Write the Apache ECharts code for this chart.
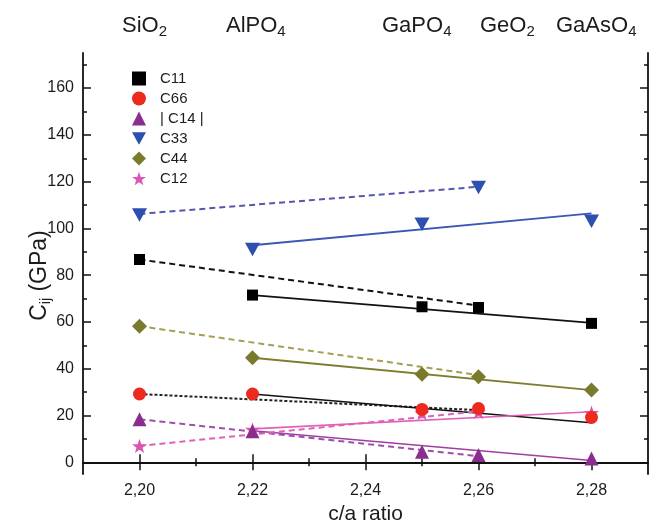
<!DOCTYPE html>
<html>
<head>
<meta charset="utf-8">
<script src="https://cdn.jsdelivr.net/npm/echarts@6/dist/echarts.min.js"></script>
<style>
  html, body { margin: 0; padding: 0; background: #fff; }
  #chart { width: 650px; height: 532px; }
</style>
</head>
<body>
<div id="chart"></div>
<script>
// c/a ratio of each crystal
const ratios = [2.20, 2.22, 2.25, 2.26, 2.28]
const materials = ['SiO2', 'AlPO4', 'GaPO4', 'GeO2', 'GaAsO4']

// elastic constants (GPa)
const c11 = [86.7, 71.5, 66.5, 66.2, 59.4]
const c66 = [29.2, 29.2, 22.6, 23.0, 19.2]
const c14 = [18.4, 13.3, 4.5, 3.1, 1.6]
const c33 = [105.7, 91.0, 101.8, 117.5, 103.1]
const c44 = [58.2, 44.7, 37.7, 36.6, 30.9]
const c12 = [7.0, 14.0, 21.0, 21.5, 21.2]

// fit lines, end points
const fitDashX = [2.20, 2.26]
const fitSolidX = [2.22, 2.28]
const c11Dash = [86.7, 67.0]
const c11Solid = [71.5, 59.6]
const c66Dash = [29.2, 22.3]
const c66Solid = [29.2, 16.9]
const c14Dash = [18.4, 2.6]
const c14Solid = [13.5, 0.8]
const c33Dash = [106.2, 117.8]
const c33Solid = [92.8, 106.4]
const c44Dash = [58.2, 37.3]
const c44Solid = [44.7, 30.9]
const c12Dash = [7.0, 21.8]
const c12Solid = [14.3, 21.6]

// axis ticks
const xMajor = [2.20, 2.22, 2.24, 2.26, 2.28]
const xMinor = [2.21, 2.23, 2.25, 2.27]
const yMajor = [0, 20, 40, 60, 80, 100, 120, 140, 160]
const yMinor = [10, 30, 50, 70, 90, 110, 130, 150, 170]

const FONT = 'Liberation Sans, Arial, sans-serif'
const TXT = '#1c1c1c'

const downTri = 'path://M0,0L10,0L5,9Z'
const star = 'path://M5,0L6.18,3.45L9.76,3.45L6.9,5.6L7.94,9.05L5,7L2.06,9.05L3.1,5.6L0.24,3.45L3.82,3.45Z'

const chart = echarts.init(document.getElementById('chart'))

const pairs = (xs, ys) => xs.map((x, i) => [x, ys[i]])

function fit (xs, ys, color, type, width) {
  return {
    type: 'line',
    data: pairs(xs, ys),
    symbol: 'none',
    silent: true,
    z: 2,
    lineStyle: { color: color, width: width || 1.6, type: type }
  }
}

function marks (name, ys, symbol, size, color) {
  return {
    name: name,
    type: 'scatter',
    data: pairs(ratios, ys),
    symbol: symbol,
    symbolSize: size,
    symbolKeepAspect: true,
    itemStyle: { color: color, opacity: 1 },
    z: 5
  }
}

const boxLine = { show: true, lineStyle: { color: '#111', width: 1.8 } }

function xAx (pos, values, len, line, labels) {
  return {
    type: 'value',
    position: pos,
    min: 2.19,
    max: 2.29,
    axisLine: line ? boxLine : { show: false },
    axisTick: { show: true, inside: true, length: len, customValues: values, lineStyle: { color: '#111', width: 1.5 } },
    axisLabel: labels ? {
      show: true,
      customValues: values,
      formatter: v => v.toFixed(2).replace('.', ','),
      fontFamily: FONT,
      fontSize: 16,
      color: TXT,
      margin: 9
    } : { show: false },
    splitLine: { show: false }
  }
}

function yAx (pos, values, len, line, labels) {
  return {
    type: 'value',
    position: pos,
    min: -5,
    max: 175,
    axisLine: line ? boxLine : { show: false },
    axisTick: { show: true, inside: true, length: len, customValues: values, lineStyle: { color: '#111', width: 1.5 } },
    axisLabel: labels ? {
      show: true,
      customValues: values,
      fontFamily: FONT,
      fontSize: 16,
      color: TXT,
      margin: 9
    } : { show: false },
    splitLine: { show: false }
  }
}

const bottomX = xAx('bottom', xMajor, 8, true, true)
bottomX.name = 'c/a ratio'
bottomX.nameLocation = 'middle'
bottomX.nameGap = 20
bottomX.nameTextStyle = { fontFamily: FONT, fontSize: 21, color: TXT, verticalAlign: 'top' }

const leftY = yAx('left', yMajor, 8, true, true)
leftY.name = 'C{s|ij} (GPa)'
leftY.nameLocation = 'middle'
leftY.nameMoveOverlap = false
leftY.nameGap = 30
leftY.nameTextStyle = {
  fontFamily: FONT,
  fontSize: 23,
  color: TXT,
  padding: [0, 24, 0, 0],
  rich: {
    s: { fontFamily: FONT, fontSize: 14, color: TXT, padding: [13, 0, 0, 0] }
  }
}

// material names along the top edge
const subRich = {
  m: { fontFamily: FONT, fontSize: 22, color: TXT, lineHeight: 24, verticalAlign: 'top' },
  s: { fontFamily: FONT, fontSize: 15, color: TXT, lineHeight: 16, verticalAlign: 'bottom' }
}
const matLeft = [122, 226, 382, 480, 556]
const matText = materials.map(m => {
  const k = m.search(/\d/)
  return '{m|' + m.slice(0, k) + '}{s|' + m.slice(k) + '}'
})

const option = {
  animation: false,
  backgroundColor: '#fff',
  grid: { left: 83, right: 2, top: 53, bottom: 58 },
  legend: {
    orient: 'vertical',
    left: 127,
    top: 66,
    itemWidth: 14,
    itemHeight: 14,
    itemGap: 5,
    textStyle: { fontFamily: FONT, fontSize: 15, color: TXT, padding: [0, 0, 0, 9] },
    data: ['C11', 'C66', '| C14 |', 'C33', 'C44', 'C12']
  },
  graphic: matText.map((t, i) => ({
    type: 'text',
    left: matLeft[i],
    top: 15,
    silent: true,
    style: { text: t, rich: subRich, fill: TXT }
  })),
  xAxis: [
    bottomX,
    xAx('bottom', xMinor, 4, false, false),
    xAx('top', xMajor, 8, true, false),
    xAx('top', xMinor, 4, false, false)
  ],
  yAxis: [
    leftY,
    yAx('left', yMinor, 4, false, false),
    yAx('right', yMajor, 8, true, false),
    yAx('right', yMinor, 4, false, false)
  ],
  series: [
    fit(fitDashX, c33Dash, '#5656ad', [6, 4], 2),
    fit(fitSolidX, c33Solid, '#3c56b6', 'solid', 1.8),
    fit(fitDashX, c11Dash, '#111', [6, 4], 2),
    fit(fitSolidX, c11Solid, '#111', 'solid', 1.8),
    fit(fitDashX, c44Dash, '#a3a052', [6, 4], 2),
    fit(fitSolidX, c44Solid, '#7d7d30', 'solid', 1.8),
    fit(fitDashX, c66Dash, '#222', [3, 2], 2),
    fit(fitSolidX, c66Solid, '#111', 'solid', 1.6),
    fit(fitDashX, c14Dash, '#9a52a8', [6, 4], 2),
    fit(fitSolidX, c14Solid, '#a03ea4', 'solid', 1.6),
    fit(fitDashX, c12Dash, '#e060b6', [6, 4], 2),
    fit(fitSolidX, c12Solid, '#e060b6', 'solid', 1.6),
    marks('C12', c12, star, 15, '#dd55b4'),
    marks('| C14 |', c14, 'triangle', 14, '#8a2d8f'),
    marks('C66', c66, 'circle', 13, '#ec2a1e'),
    marks('C44', c44, 'diamond', 15, '#7a7a2c'),
    marks('C33', c33, downTri, 15, '#2c4fb0'),
    marks('C11', c11, 'rect', 11, '#000')
  ]
}

chart.setOption(option)
</script>
</body>
</html>
